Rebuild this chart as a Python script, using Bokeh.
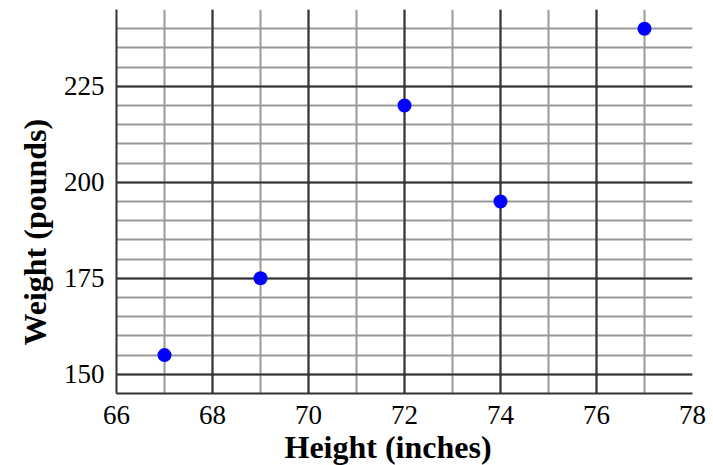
from bokeh.plotting import figure
from bokeh.models import FixedTicker, Grid, Range1d, Title
from bokeh.embed import file_html
from bokeh.resources import INLINE

heights = [67, 69, 72, 74, 77]
weights = [155, 175, 220, 195, 240]
x_major = [66, 68, 70, 72, 74, 76, 78]
x_minor = list(range(66, 79))
y_major = [150, 175, 200, 225]
y_minor = list(range(145, 246, 5))
x_title = "Height (inches)"
y_title = "Weight (pounds)"

p = figure(frame_width=576, frame_height=384, output_backend="svg", toolbar_location=None,
           x_range=Range1d(66, 78), y_range=Range1d(145, 245),
           min_border_left=116, min_border_top=9, min_border_right=20, min_border_bottom=72)
p.outline_line_color = None
p.xgrid.visible = False
p.ygrid.visible = False

minor_col = "#999999"
major_col = "#333333"
p.add_layout(Grid(dimension=0, ticker=FixedTicker(ticks=x_minor), grid_line_color=minor_col, grid_line_width=2))
p.add_layout(Grid(dimension=1, ticker=FixedTicker(ticks=y_minor), grid_line_color=minor_col, grid_line_width=2))
p.add_layout(Grid(dimension=0, ticker=FixedTicker(ticks=x_major), grid_line_color=major_col, grid_line_width=2))
p.add_layout(Grid(dimension=1, ticker=FixedTicker(ticks=y_major), grid_line_color=major_col, grid_line_width=2))

p.scatter(heights, weights, size=14, color="#0000ff", line_color=None)

for ax in (p.xaxis[0], p.yaxis[0]):
    ax.axis_line_color = major_col
    ax.axis_line_width = 2
    ax.major_tick_line_color = None
    ax.minor_tick_line_color = None
    ax.major_label_text_font = "Liberation Serif"
    ax.major_label_text_font_size = "27px"
    ax.major_label_text_color = "#000000"
    ax.major_label_standoff = 6

p.xaxis[0].ticker = FixedTicker(ticks=x_major)
p.yaxis[0].ticker = FixedTicker(ticks=y_major)

p.add_layout(Title(text=x_title, align="left", offset=168, standoff=0,
                   text_font="Liberation Serif", text_font_style="bold", text_font_size="32px",
                   text_color="#000000"), "below")
p.add_layout(Title(text=y_title, align="left", offset=48, standoff=16,
                   text_font="Liberation Serif", text_font_style="bold", text_font_size="32px",
                   text_color="#000000"), "left")

open("out.html", "w").write(file_html(p, INLINE))
